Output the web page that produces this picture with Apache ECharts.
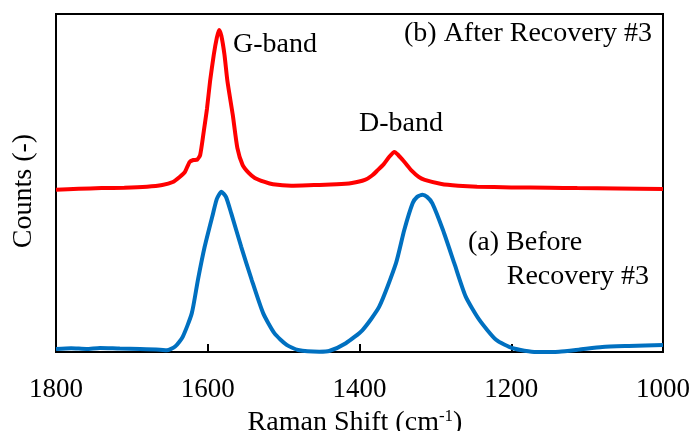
<!DOCTYPE html>
<html lang="en">
<head>
<meta charset="UTF-8">
<title>Raman spectra</title>
<script src="https://cdn.jsdelivr.net/npm/echarts@6/dist/echarts.min.js"></script>
<style>
  html, body { margin: 0; padding: 0; background: #fff; }
  #main { width: 695px; height: 431px; }
</style>
</head>
<body>
<div id="main"></div>
<script>
// (b) After Recovery #3 -- red trace
var afterShift = [1800, 1770, 1740, 1710, 1680, 1660, 1646, 1637, 1630, 1624, 1619, 1614, 1610, 1605, 1601, 1597, 1592, 1588, 1585, 1582, 1578, 1574, 1567, 1561, 1554, 1546, 1538, 1525, 1514, 1490, 1460, 1430, 1410, 1393, 1383, 1376, 1368, 1361, 1354, 1349, 1343, 1337, 1332, 1322, 1314, 1292, 1270, 1245, 1200, 1150, 1113, 1060, 1000];
var afterCounts = [48.0, 48.3, 48.5, 48.6, 48.9, 49.4, 50.3, 51.8, 53.3, 56.2, 56.8, 56.9, 58.3, 65.7, 72.0, 80.0, 88.0, 93.0, 95.3, 93.5, 88.0, 80.0, 70.1, 60.4, 55.3, 53.0, 51.5, 50.3, 49.6, 49.2, 49.4, 49.6, 50.0, 50.9, 52.3, 53.8, 55.6, 57.7, 59.2, 58.3, 56.8, 55.2, 53.8, 51.8, 50.9, 49.7, 49.2, 48.9, 48.7, 48.6, 48.5, 48.4, 48.2];

// (a) Before Recovery #3 -- blue trace
var beforeShift = [1800, 1780, 1760, 1742, 1716, 1689, 1663, 1654, 1643, 1633, 1621, 1613, 1604, 1593, 1588, 1582, 1576, 1569, 1556, 1542, 1527, 1512, 1496, 1481, 1453, 1440, 1418, 1396, 1374, 1352, 1341, 1330, 1324, 1317, 1311, 1304, 1290, 1275, 1260, 1242, 1220, 1198, 1167, 1137, 1111, 1080, 1045, 1000];
var beforeCounts = [0.9, 1.1, 0.9, 1.2, 1.0, 0.9, 0.7, 0.5, 1.6, 4.5, 11.5, 21.3, 31.2, 41.0, 45.3, 47.4, 45.9, 41.0, 31.2, 21.3, 11.5, 5.5, 2.1, 0.6, 0.1, 0.3, 2.6, 6.5, 13.4, 26.2, 36.1, 44.0, 45.9, 46.5, 45.9, 44.0, 36.1, 26.2, 16.4, 9.5, 3.6, 1.1, 0.0, 0.1, 0.7, 1.5, 1.8, 2.1];

var xTicks = [1800, 1600, 1400, 1200, 1000];

function pairs(xs, ys) {
  return xs.map(function (x, i) { return [x, ys[i]]; });
}

var serif = 'Liberation Serif';
var chart = echarts.init(document.getElementById('main'));

var option = {
  animation: false,
  backgroundColor: '#fff',
  textStyle: { fontFamily: serif, color: '#000' },
  grid: {
    left: 56, right: 32, top: 14, bottom: 79,
    containLabel: false,
    outerBoundsMode: 'none',
    show: true, borderColor: '#000', borderWidth: 2
  },
  xAxis: {
    type: 'value',
    inverse: true,
    min: xTicks[xTicks.length - 1],
    max: xTicks[0],
    interval: 200,
    name: '{n|Raman Shift (cm}{s|-1}{n|)}',
    nameLocation: 'middle',
    nameGap: 53,
    nameTextStyle: {
      padding: [0, 9, 0, 0],
      rich: {
        n: { fontFamily: serif, fontSize: 28, color: '#000' },
        s: { fontFamily: serif, fontSize: 17, color: '#000', verticalAlign: 'top', padding: [0, 0, 12, 0] }
      }
    },
    axisLine: { show: true, onZero: false, lineStyle: { color: '#000', width: 2 } },
    axisTick: { show: true, inside: true, length: 8, lineStyle: { color: '#000', width: 2 } },
    axisLabel: {
      fontFamily: serif, fontSize: 27, color: '#000', margin: 24,
      formatter: function (v) { return String(v); }
    },
    splitLine: { show: false }
  },
  yAxis: {
    type: 'value',
    min: 0,
    max: 100,
    name: 'Counts (-)',
    nameLocation: 'middle',
    nameGap: 18,
    nameTextStyle: { fontFamily: serif, fontSize: 28, color: '#000', padding: [0, 16, 0, 0] },
    axisLine: { show: true, lineStyle: { color: '#000', width: 2 } },
    axisTick: { show: false },
    axisLabel: { show: false },
    splitLine: { show: false }
  },
  series: [
    {
      name: 'Before Recovery #3',
      type: 'line',
      data: pairs(beforeShift, beforeCounts),
      showSymbol: false,
      smooth: 0.2,
      lineStyle: { color: '#0070C0', width: 4 },
      z: 3
    },
    {
      name: 'After Recovery #3',
      type: 'line',
      data: pairs(afterShift, afterCounts),
      showSymbol: false,
      smooth: 0.2,
      lineStyle: { color: '#FF0000', width: 4 },
      z: 4
    }
  ],
  graphic: [
    { type: 'text', left: 233, top: 31, style: { text: 'G-band', font: '28px "Liberation Serif"', fill: '#000' } },
    { type: 'text', left: 359, top: 110, style: { text: 'D-band', font: '28px "Liberation Serif"', fill: '#000' } },
    { type: 'text', right: 43, top: 20, style: { text: '(b) After Recovery #3', font: '28px "Liberation Serif"', fill: '#000' } },
    { type: 'text', left: 468, top: 229, style: { text: '(a) Before', font: '28px "Liberation Serif"', fill: '#000' } },
    { type: 'text', right: 46, top: 263, style: { text: 'Recovery #3', font: '28px "Liberation Serif"', fill: '#000' } }
  ]
};

chart.setOption(option);
</script>
</body>
</html>
